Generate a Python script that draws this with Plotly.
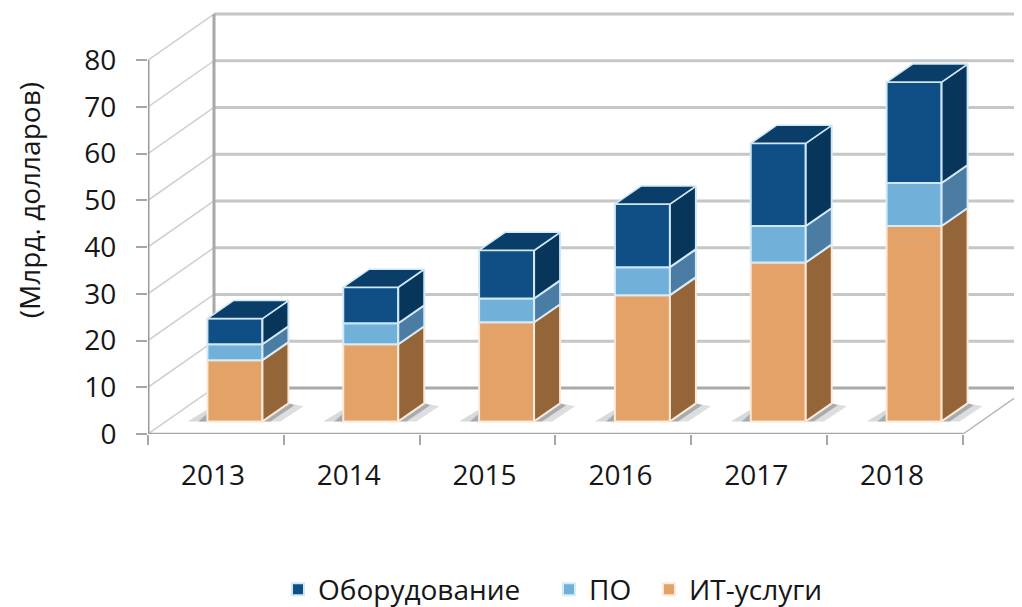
import plotly.graph_objects as go

# ---- data ----
years = ["2013", "2014", "2015", "2016", "2017", "2018"]
it_services = [13.1, 16.5, 21.2, 27.0, 34.0, 41.8]
software = [3.4, 4.5, 5.1, 6.0, 7.8, 9.2]
hardware = [5.5, 7.7, 10.3, 13.5, 17.7, 21.6]
y_ticks = [0, 10, 20, 30, 40, 50, 60, 70, 80]

# ---- geometry of the pseudo-3D scene (pixels on the page) ----
PAGE_W = 1022
BODY = 8              # default body margin of the written page
FIG_W, FIG_H = PAGE_W - BODY, 620
X0_PX, Y0_PX = 148, 433.6
CAT_PX, VAL_PX = 135.83, 4.67
WALL_DX, WALL_DY = 66, 46
BAR_DX, BAR_DY = 26, 18
LIFT = 12.6 / VAL_PX
BAR_SHIFT = 0.14
BAR_W = 55 / CAT_PX


def ux(px):
    return px / CAT_PX


def uy(px):
    return px / VAL_PX


FONT = "Open Sans, Noto Sans, sans-serif"
TXT = "#161616"
plot_w = PAGE_W - X0_PX
plot_h = Y0_PX - BODY
x_end = plot_w / CAT_PX
y_end = plot_h / VAL_PX

series = [
    ("ИТ-услуги", it_services, "#e3a267", "#95653a", "#fbe8d6", "legend3"),
    ("ПО", software, "#70b0d9", "#4b7ca3", "#d5ecf8", "legend2"),
    ("Оборудование", hardware, "#0f4f85", "#07365a", "#cfe8f6", "legend"),
]
TOP_COLOR = "#0a3e68"

fig = go.Figure()
centers = [i + 0.5 + BAR_SHIFT for i in range(len(years))]
half = BAR_W / 2
bases = [LIFT] * len(years)
top_x, top_y = [], []
for name, vals, front, side, edge, leg in series:
    fig.add_trace(go.Bar(
        x=centers, y=vals, base=bases, width=BAR_W, name=name, legend=leg,
        marker=dict(color=front, line=dict(color=edge, width=2)),
        hoverinfo="skip",
    ))
    sx, sy = [], []
    for c, b, v in zip(centers, bases, vals):
        r = c + half
        sx += [r, r + ux(BAR_DX), r + ux(BAR_DX), r, r, None]
        sy += [b, b + uy(BAR_DY), b + v + uy(BAR_DY), b + v, b, None]
    fig.add_trace(go.Scatter(
        x=sx, y=sy, mode="lines", fill="toself", fillcolor=side,
        line=dict(color=edge, width=2), showlegend=False, hoverinfo="skip",
    ))
    bases = [b + v for b, v in zip(bases, vals)]

for c, t in zip(centers, bases):
    l, r = c - half, c + half
    top_x += [l, r, r + ux(BAR_DX), l + ux(BAR_DX), l, None]
    top_y += [t, t, t + uy(BAR_DY), t + uy(BAR_DY), t, None]
fig.add_trace(go.Scatter(
    x=top_x, y=top_y, mode="lines", fill="toself", fillcolor=TOP_COLOR,
    line=dict(color="#cfe8f6", width=1.5), showlegend=False, hoverinfo="skip",
))

# ---- walls, floor, shadows: built from the axis ticks ----
shapes = []


def seg(x0, y0, x1, y1, color, width):
    shapes.append(dict(type="line", layer="below", xref="x", yref="y",
                       x0=x0, y0=y0, x1=x1, y1=y1,
                       line=dict(color=color, width=width)))


def poly(points, color):
    d = "M " + " L ".join(f"{x},{y}" for x, y in points) + " Z"
    shapes.append(dict(type="path", layer="below", xref="x", yref="y",
                       line=dict(width=0), fillcolor=color, path=d))


wx, wy = ux(WALL_DX), uy(WALL_DY)
for t in y_ticks:
    seg(0, t, wx, t + wy, "#cfcfcf", 1.5)
    seg(wx, t + wy, x_end + 0.1, t + wy, "#a9a9a9" if t == 0 else "#c6c6c6", 3)
seg(wx, wy, wx, y_ticks[-1] + wy, "#a8a8a8", 3)
seg(0, 0, 0, y_ticks[-1], "#9b9b9b", 3)
seg(0, 0, len(years), 0, "#a6a6a6", 2.5)
seg(len(years), 0, len(years) + wx, wy, "#b5b5b5", 1.5)

for c in centers:
    l, r = c - half, c + half
    base_pt = (r, LIFT)
    back_pt = (r + ux(BAR_DX), LIFT + uy(BAR_DY))
    poly([base_pt, back_pt, (r + ux(41), LIFT + uy(15)), (r + ux(18), LIFT)],
         "rgba(205,208,210,0.7)")
    poly([base_pt, back_pt, (r + ux(32), LIFT + uy(16)), (r + ux(8), LIFT)],
         "rgba(140,145,150,0.65)")
    poly([(l, LIFT), (l - ux(20), LIFT), (l, LIFT + uy(12))], "rgba(205,208,210,0.8)")
    poly([(l, LIFT), (l - ux(9), LIFT), (l, LIFT + uy(8))], "rgba(140,145,150,0.65)")

legend_y = (plot_h - (589 - BODY)) / plot_h


def legend_at(page_px):
    return dict(x=(page_px - X0_PX) / plot_w, y=legend_y, xanchor="left", yanchor="middle",
                orientation="h", bgcolor="rgba(0,0,0,0)",
                font=dict(family=FONT, size=28, color=TXT))


fig.update_layout(
    width=FIG_W, height=FIG_H,
    margin=dict(l=X0_PX - BODY, r=0, t=0, b=FIG_H - plot_h, pad=0),
    paper_bgcolor="white", plot_bgcolor="white",
    barmode="overlay", showlegend=True,
    shapes=shapes,
    legend=legend_at(278), legend2=legend_at(549), legend3=legend_at(649),
    xaxis=dict(
        range=[0, x_end], tickmode="array",
        tickvals=[i + 0.5 - 3 / CAT_PX for i in range(len(years))], ticktext=years,
        ticks="", showgrid=False, zeroline=False, showline=False,
        ticklabelstandoff=22,
        tickfont=dict(family=FONT, size=28, color=TXT),
        minor=dict(tickmode="array", tickvals=list(range(len(years) + 1)),
                   ticks="outside", ticklen=10, tickwidth=1.5, tickcolor="#a6a6a6",
                   showgrid=False),
    ),
    yaxis=dict(
        range=[0, y_end], tickmode="array", tickvals=y_ticks,
        ticks="outside", ticklen=11, tickwidth=1.5, tickcolor="#a6a6a6",
        showgrid=False, zeroline=False, showline=False,
        ticklabelstandoff=14,
        tickfont=dict(family=FONT, size=28, color=TXT),
    ),
    annotations=[dict(
        text="(Млрд. долларов)", textangle=-90, showarrow=False,
        xref="paper", yref="paper",
        x=(29 - X0_PX) / plot_w, y=(Y0_PX - 200) / plot_h,
        xanchor="center", yanchor="middle",
        font=dict(family=FONT, size=28, color=TXT),
    )],
)

fig.write_html("out.html")
